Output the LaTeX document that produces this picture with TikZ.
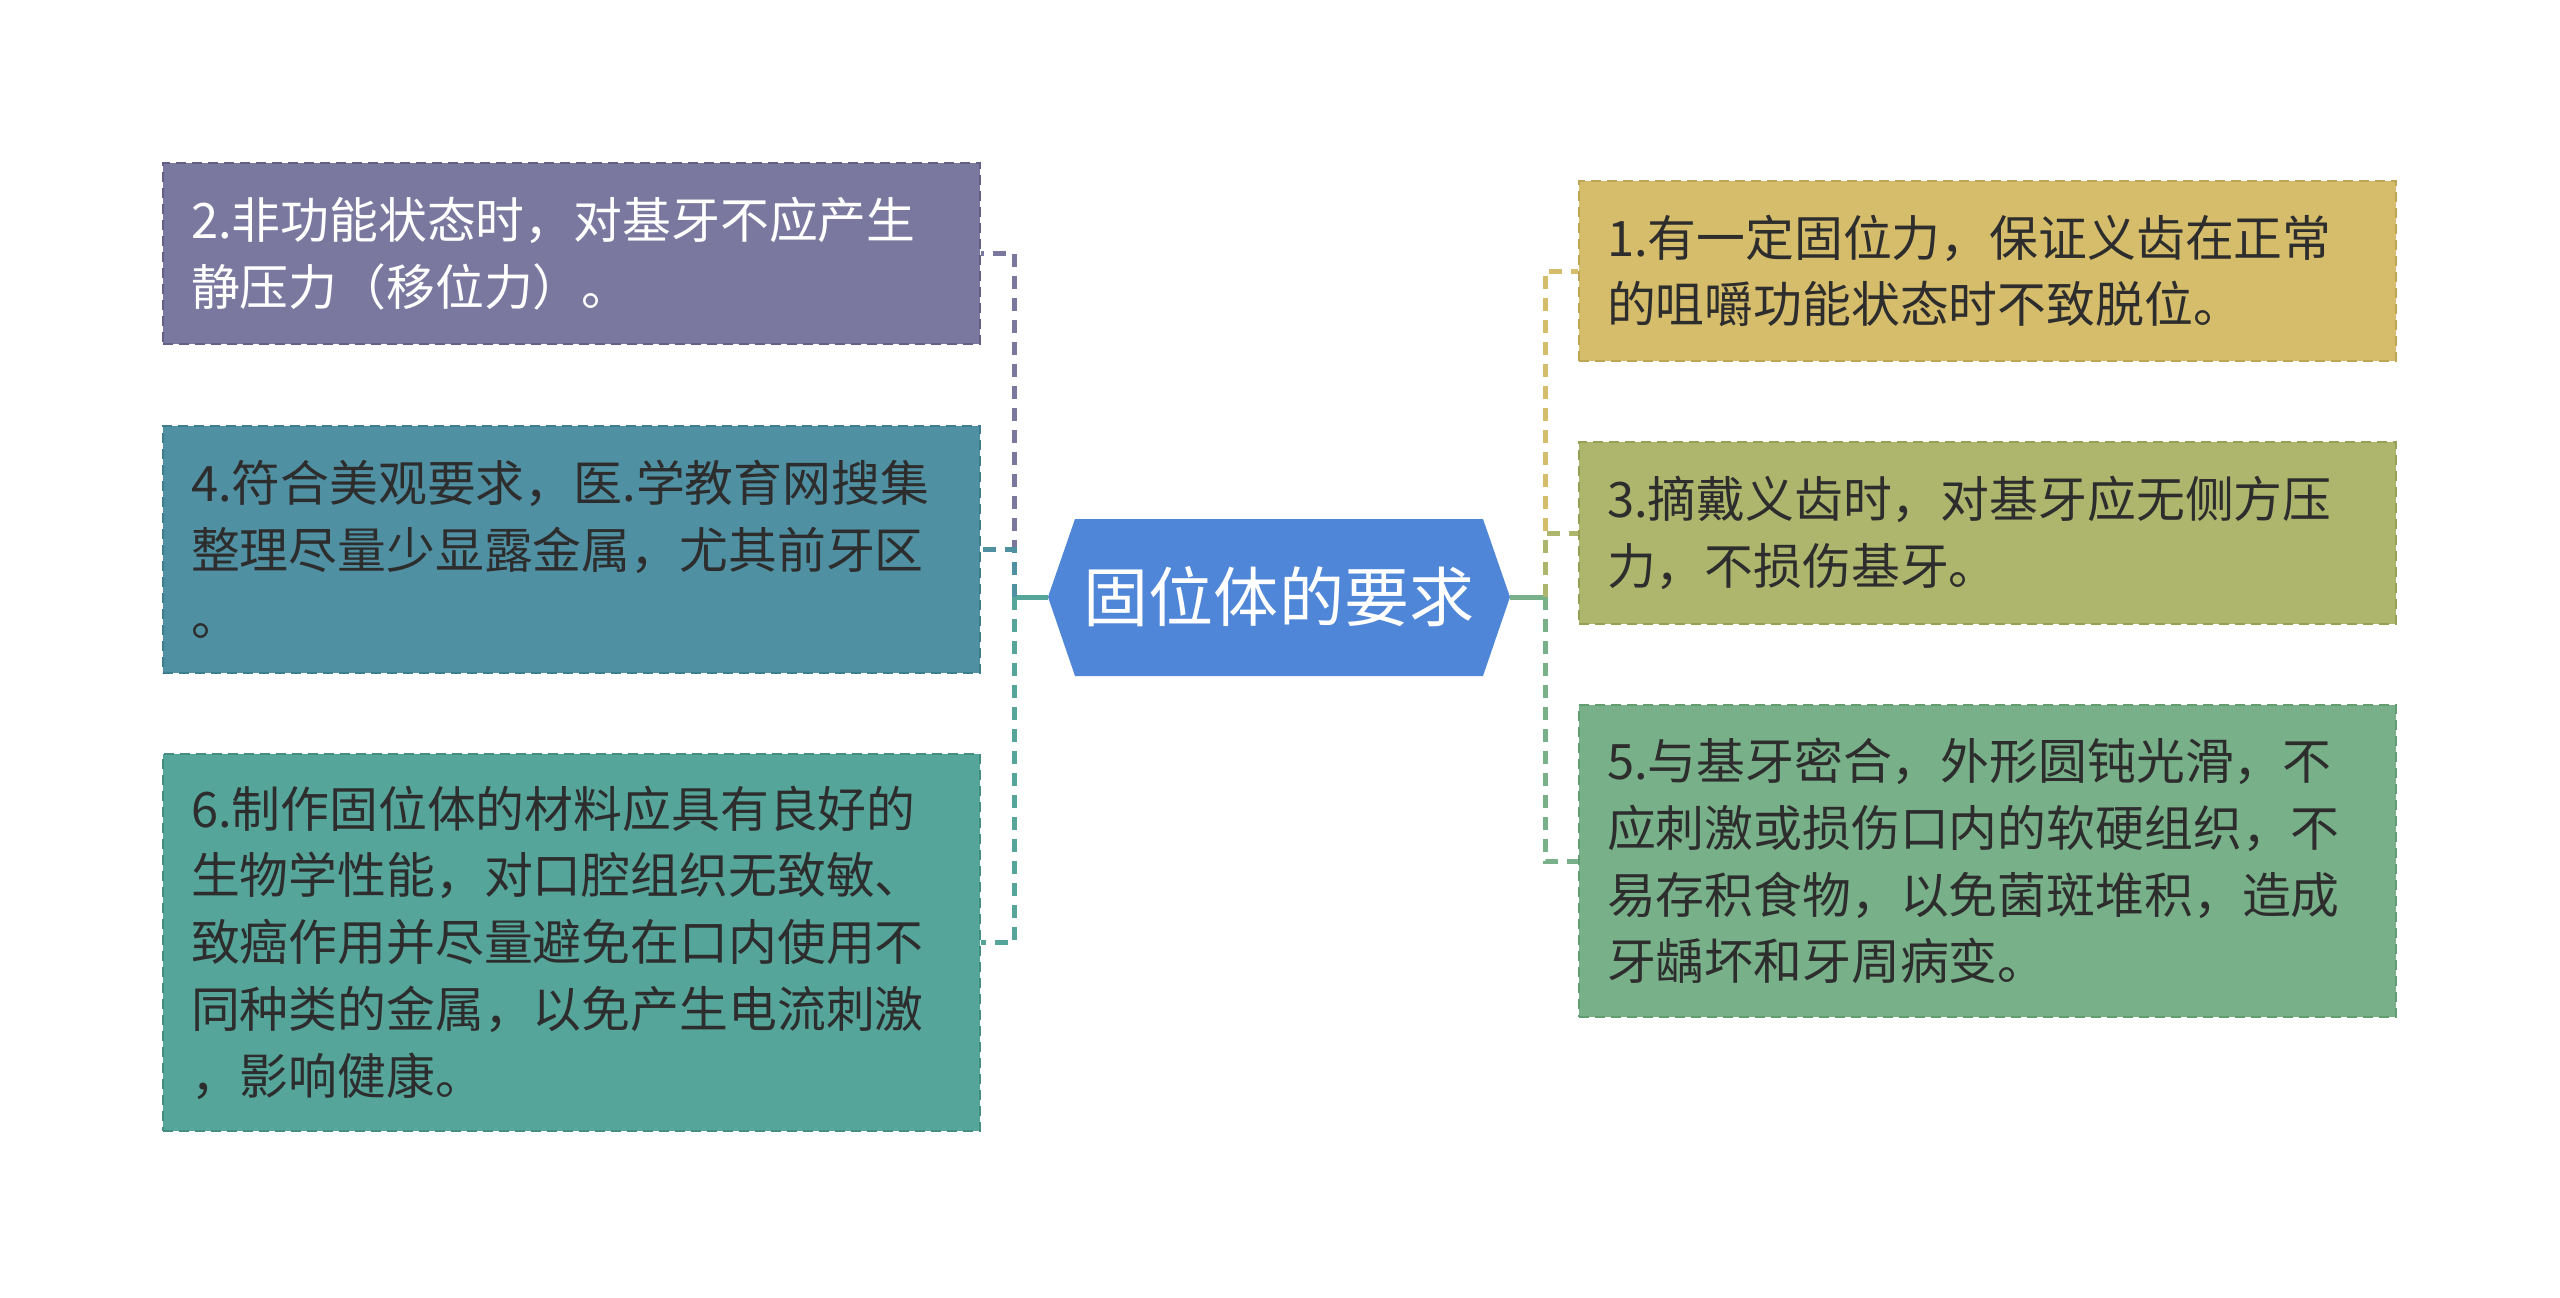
\documentclass[tikz,border=0pt]{standalone}
\usepackage{fontspec}
\usepackage{xcolor}
\usepackage{tikz}
\usetikzlibrary{positioning}
\newfontfamily\cjk{Noto Sans CJK SC}
\definecolor{rootblue}{RGB}{79,134,216}
\definecolor{leaftext}{RGB}{45,45,45}
\definecolor{leafpurple}{RGB}{122,120,158}
\definecolor{leafpurpledark}{RGB}{98,95,135}
\definecolor{leafblue}{RGB}{80,144,163}
\definecolor{leafbluedark}{RGB}{62,124,143}
\definecolor{leafteal}{RGB}{85,165,154}
\definecolor{leaftealdark}{RGB}{66,143,130}
\definecolor{leafgold}{RGB}{213,189,108}
\definecolor{leafgolddark}{RGB}{190,166,85}
\definecolor{leafolive}{RGB}{173,182,108}
\definecolor{leafolivedark}{RGB}{151,160,87}
\definecolor{leafgreen}{RGB}{120,177,137}
\definecolor{leafgreendark}{RGB}{98,156,115}

\begin{document}
\begin{tikzpicture}[
    x=0.1mm, y=-0.1mm,
    leaf/.style={rectangle, draw, dash pattern=on 1mm off 0.6mm, line width=0.25mm, minimum width=81.7mm, text width=76.1mm, inner xsep=2.8mm, inner ysep=0pt, align=left, font=\cjk\fontsize{13.9}{19}\selectfont, text=leaftext},
    purplebox/.style={leaf, fill=leafpurple, draw=leafpurpledark, text=white},
    bluebox/.style={leaf, fill=leafblue, draw=leafbluedark},
    tealbox/.style={leaf, fill=leafteal, draw=leaftealdark},
    goldbox/.style={leaf, fill=leafgold, draw=leafgolddark},
    olivebox/.style={leaf, fill=leafolive, draw=leafolivedark},
    greenbox/.style={leaf, fill=leafgreen, draw=leafgreendark},
    roottext/.style={inner sep=0pt, text=white, font=\cjk\fontsize{18.5}{22}\selectfont},
    branch/.style={line width=0.5mm, dash pattern=on 1.3mm off 0.9mm},
    trunk/.style={line width=0.5mm}
]
    \fill[white] (0,0) rectangle (2560,1297);
    \useasboundingbox (0,0) rectangle (2560,1297);

    \fill[rootblue] (1048,597) -- (1075,519) -- (1483,519) -- (1510,597) -- (1483,676) -- (1075,676) -- cycle;
    \node[roottext] (root) at (1279,597) {固位体的要求};
    \coordinate (rootW) at (1048,597);
    \coordinate (rootE) at (1510,597);
    \coordinate (hubL) at (1014,597);
    \coordinate (hubR) at (1545,597);

    \node[purplebox, minimum height=18.1mm] (b2) at (571.5,253.5) {2.非功能状态时，对基牙不应产生\\静压力（移位力）。};
    \node[bluebox, minimum height=24.7mm] (b4) at (571.5,549.5) {4.符合美观要求，医.学教育网搜集\\整理尽量少显露金属，尤其前牙区\\。};
    \node[tealbox, minimum height=37.7mm] (b6) at (571.5,942.5) {6.制作固位体的材料应具有良好的\\生物学性能，对口腔组织无致敏、\\致癌作用并尽量避免在口内使用不\\同种类的金属，以免产生电流刺激\\，影响健康。};
    \node[goldbox, minimum height=18mm] (b1) at (1987.5,271) {1.有一定固位力，保证义齿在正常\\的咀嚼功能状态时不致脱位。};
    \node[olivebox, minimum height=18.2mm] (b3) at (1987.5,533) {3.摘戴义齿时，对基牙应无侧方压\\力，不损伤基牙。};
    \node[greenbox, minimum height=31.2mm] (b5) at (1987.5,861) {5.与基牙密合，外形圆钝光滑，不\\应刺激或损伤口内的软硬组织，不\\易存积食物，以免菌斑堆积，造成\\牙龋坏和牙周病变。};

    \draw[trunk, leafteal] (rootW) -- (hubL);
    \draw[trunk, leafgreen] (rootE) -- (hubR);
    \draw[branch, leafpurple] (hubL) |- (b2.east);
    \draw[branch, leafblue] (hubL) |- (b4.east);
    \draw[branch, leafteal] (hubL) |- (b6.east);
    \draw[branch, leafgold] (hubR) |- (b1.west);
    \draw[branch, leafolive] (hubR) |- (b3.west);
    \draw[branch, leafgreen] (hubR) |- (b5.west);
\end{tikzpicture}
\end{document}
